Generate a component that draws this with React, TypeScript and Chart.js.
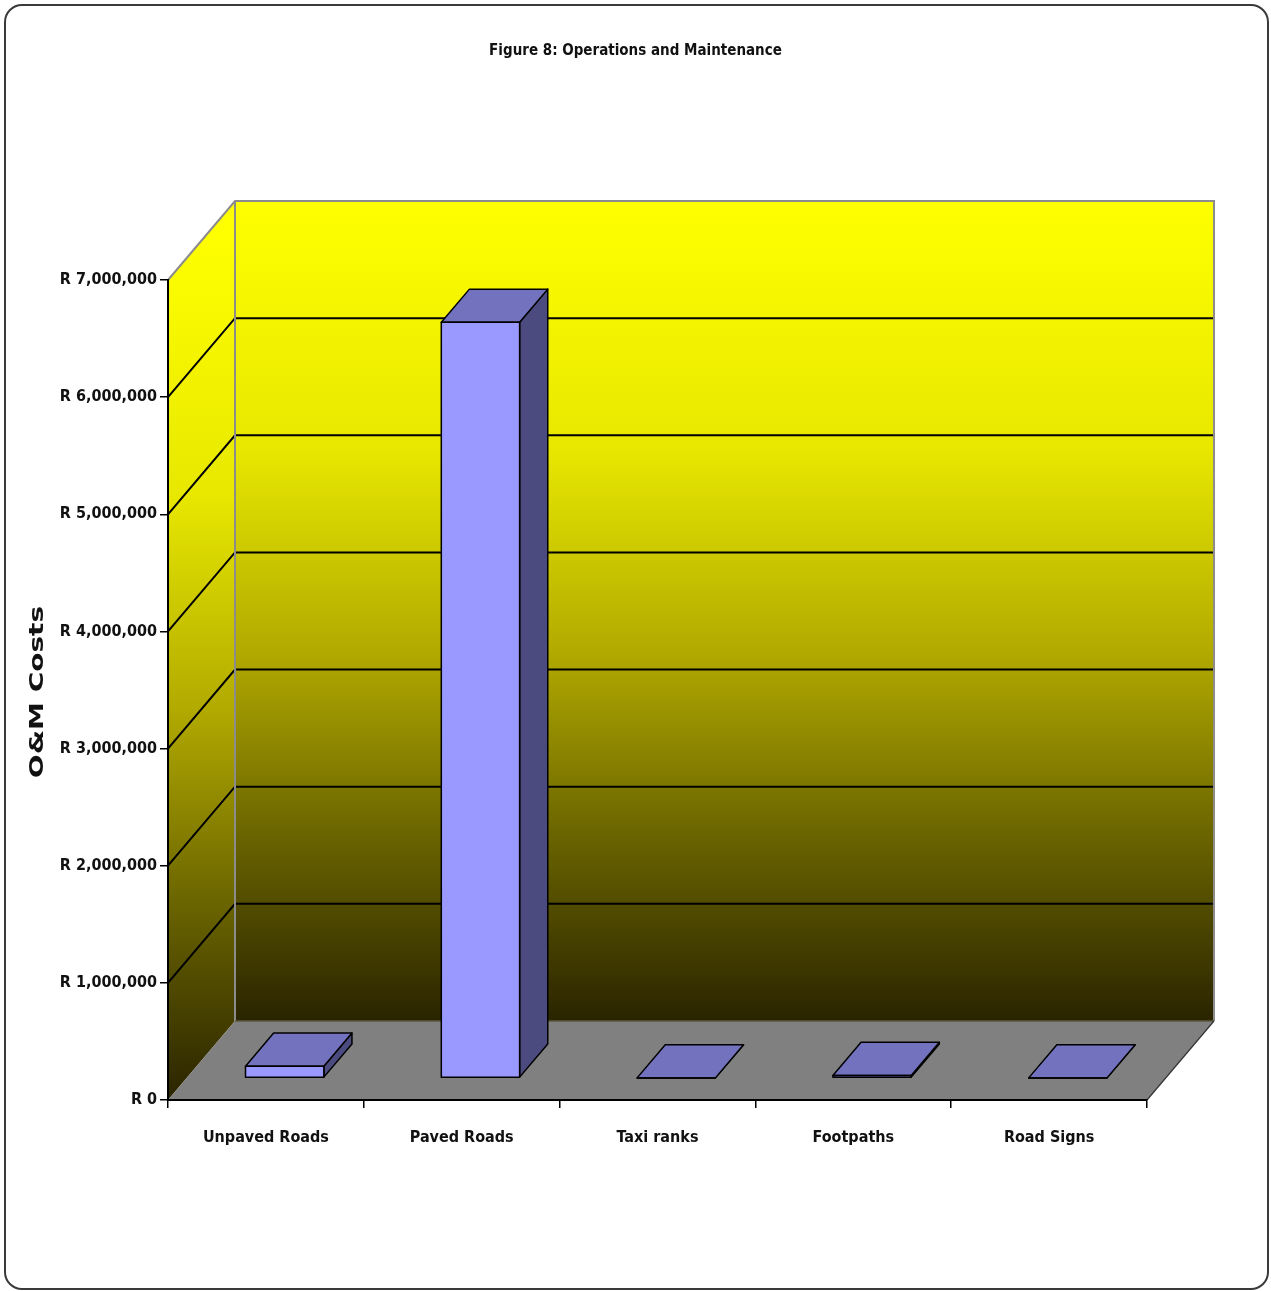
import React, { useEffect, useRef } from "react";
import { Chart, registerables } from "chart.js";

Chart.register(...registerables);

// ---- data ----
const categories = ["Unpaved Roads", "Paved Roads", "Taxi ranks", "Footpaths", "Road Signs"];
const omCosts = [100000, 6450000, 0, 20000, 0];
const yMin = 0;
const yMax = 7000000;
const yStep = 1000000;
const chartTitle = "Figure 8: Operations and Maintenance";
const yAxisTitle = "O&M Costs";

// ---- 3D styling ----
const DEPTH_X = 67;
const DEPTH_Y = 79;
const BAR_FRONT = 0.28;
const BAR_BACK = 0.7;
const FONT_COND = '"DejaVu Sans Condensed", "DejaVu Sans", sans-serif';

function wallGradient(ctx: CanvasRenderingContext2D, y0: number, y1: number) {
  const g = ctx.createLinearGradient(0, y0, 0, y1);
  g.addColorStop(0, "#ffff00");
  g.addColorStop(0.3, "#e8e800");
  g.addColorStop(0.55, "#b2aa00");
  g.addColorStop(0.78, "#686200");
  g.addColorStop(1, "#2a2400");
  return g;
}

const threeDPlugin = {
  id: "threeD",
  beforeDraw(chart: any) {
    const { ctx, chartArea } = chart;
    const yScale = chart.scales.y;
    const L = chartArea.left, R = chartArea.right, T = chartArea.top, B = chartArea.bottom;
    ctx.save();
    // back wall
    ctx.fillStyle = wallGradient(ctx, T - DEPTH_Y, B - DEPTH_Y);
    ctx.fillRect(L + DEPTH_X, T - DEPTH_Y, R - L, B - T);
    // side wall
    ctx.beginPath();
    ctx.moveTo(L, T);
    ctx.lineTo(L + DEPTH_X, T - DEPTH_Y);
    ctx.lineTo(L + DEPTH_X, B - DEPTH_Y);
    ctx.lineTo(L, B);
    ctx.closePath();
    ctx.fillStyle = wallGradient(ctx, T - DEPTH_Y * 0.6, B);
    ctx.fill();
    // floor
    ctx.beginPath();
    ctx.moveTo(L, B);
    ctx.lineTo(R, B);
    ctx.lineTo(R + DEPTH_X, B - DEPTH_Y);
    ctx.lineTo(L + DEPTH_X, B - DEPTH_Y);
    ctx.closePath();
    ctx.fillStyle = "#808080";
    ctx.fill();
    // grid lines
    ctx.strokeStyle = "#000";
    ctx.lineWidth = 2;
    yScale.ticks.forEach((t: any) => {
      if (t.value <= yMin || t.value >= yMax) return;
      const py = yScale.getPixelForValue(t.value);
      ctx.beginPath();
      ctx.moveTo(L, py);
      ctx.lineTo(L + DEPTH_X, py - DEPTH_Y);
      ctx.lineTo(R + DEPTH_X, py - DEPTH_Y);
      ctx.stroke();
    });
    // wall edges
    ctx.strokeStyle = "#8c8c8c";
    ctx.lineWidth = 2;
    ctx.beginPath();
    ctx.moveTo(L, T);
    ctx.lineTo(L + DEPTH_X, T - DEPTH_Y);
    ctx.lineTo(R + DEPTH_X, T - DEPTH_Y);
    ctx.lineTo(R + DEPTH_X, B - DEPTH_Y);
    ctx.moveTo(L + DEPTH_X, T - DEPTH_Y);
    ctx.lineTo(L + DEPTH_X, B - DEPTH_Y);
    ctx.stroke();
    ctx.strokeStyle = "#5a5a40";
    ctx.lineWidth = 1.5;
    ctx.beginPath();
    ctx.moveTo(L + DEPTH_X, B - DEPTH_Y);
    ctx.lineTo(R + DEPTH_X, B - DEPTH_Y);
    ctx.stroke();
    ctx.strokeStyle = "#333";
    ctx.lineWidth = 1.2;
    ctx.beginPath();
    ctx.moveTo(R, B);
    ctx.lineTo(R + DEPTH_X, B - DEPTH_Y);
    ctx.stroke();
    ctx.restore();
  },
  afterDatasetsDraw(chart: any) {
    const { ctx } = chart;
    const meta = chart.getDatasetMeta(0);
    const fx = BAR_FRONT * DEPTH_X, fy = BAR_FRONT * DEPTH_Y;
    const bx = BAR_BACK * DEPTH_X, by = BAR_BACK * DEPTH_Y;
    ctx.save();
    ctx.lineWidth = 1.5;
    ctx.lineJoin = "round";
    ctx.strokeStyle = "#000";
    meta.data.forEach((el: any) => {
      const x0 = el.x - el.width / 2;
      const x1 = el.x + el.width / 2;
      const top = el.y;
      const base = el.base;
      // side
      ctx.beginPath();
      ctx.moveTo(x1 + fx, top - fy);
      ctx.lineTo(x1 + bx, top - by);
      ctx.lineTo(x1 + bx, base - by);
      ctx.lineTo(x1 + fx, base - fy);
      ctx.closePath();
      ctx.fillStyle = "#4b4b80";
      ctx.fill();
      ctx.stroke();
      // top
      ctx.beginPath();
      ctx.moveTo(x0 + fx, top - fy);
      ctx.lineTo(x1 + fx, top - fy);
      ctx.lineTo(x1 + bx, top - by);
      ctx.lineTo(x0 + bx, top - by);
      ctx.closePath();
      ctx.fillStyle = "#7272bf";
      ctx.fill();
      ctx.stroke();
      // front
      ctx.beginPath();
      ctx.rect(x0 + fx, top - fy, x1 - x0, base - top);
      ctx.fillStyle = "#9999ff";
      ctx.fill();
      ctx.stroke();
    });
    ctx.restore();
  },
  afterDraw(chart: any) {
    const { ctx } = chart;
    ctx.save();
    ctx.translate(38, 692);
    ctx.rotate(-Math.PI / 2);
    ctx.scale(1, 0.72);
    ctx.font = 'bold 28px "DejaVu Sans", sans-serif';
    ctx.fillStyle = "#111";
    ctx.textAlign = "center";
    ctx.textBaseline = "middle";
    ctx.fillText(yAxisTitle, 0, 0);
    ctx.restore();
  },
};

export default function App() {
  const canvasRef = useRef<HTMLCanvasElement | null>(null);

  useEffect(() => {
    if (!canvasRef.current) return;
    const chart = new Chart(canvasRef.current, {
      type: "bar",
      data: {
        labels: categories,
        datasets: [
          {
            label: yAxisTitle,
            data: omCosts,
            backgroundColor: "rgba(0,0,0,0)",
            borderWidth: 0,
            barPercentage: 0.4,
            categoryPercentage: 1.0,
            yAxisID: "y",
          },
        ],
      },
      options: {
        animation: false,
        responsive: false,
        devicePixelRatio: 1,
        layout: { padding: { left: 0, right: 0, top: 0, bottom: 0 } },
        plugins: {
          legend: { display: false },
          tooltip: { enabled: false },
          title: {
            display: true,
            text: chartTitle,
            color: "#111",
            font: { family: FONT_COND, size: 15, weight: "bold" },
            padding: { top: 42, bottom: 220 },
          },
        },
        scales: {
          x: {
            afterFit: (s: any) => {
              s.height = 191;
            },
            grid: {
              offset: true,
              drawOnChartArea: false,
              drawTicks: true,
              tickLength: 8,
              color: "#000",
              lineWidth: 1.5,
            },
            border: { display: true, color: "#000", width: 2 },
            ticks: {
              color: "#111",
              padding: 20,
              font: { family: FONT_COND, size: 16, weight: "bold" },
              maxRotation: 0,
            },
          },
          y: {
            min: yMin,
            max: yMax,
            afterFit: (s: any) => {
              s.width = 168;
            },
            grid: {
              drawOnChartArea: false,
              drawTicks: true,
              tickLength: 8,
              color: "#000",
              lineWidth: 1.5,
            },
            border: { display: true, color: "#000", width: 2 },
            ticks: {
              stepSize: yStep,
              color: "#111",
              padding: 3,
              font: { family: FONT_COND, size: 16, weight: "bold" },
              callback: (v: any) => "R " + Number(v).toLocaleString("en-US"),
            },
          },
          spacer: {
            type: "linear",
            position: "right",
            afterFit: (s: any) => {
              s.width = 124;
            },
            grid: { display: false, drawTicks: false },
            border: { display: false },
            ticks: { display: false },
          },
        },
      },
      plugins: [threeDPlugin],
    } as any);
    return () => chart.destroy();
  }, []);

  return (
    <div style={{ position: "absolute", left: 0, top: 0, width: 1271, height: 1291, background: "#fff" }}>
      <div
        style={{
          position: "absolute",
          left: 4,
          top: 4,
          width: 1265,
          height: 1286,
          border: "2px solid #3a3a3a",
          borderRadius: 18,
          boxSizing: "border-box",
        }}
      />
      <canvas
        ref={canvasRef}
        width={1271}
        height={1291}
        style={{ position: "absolute", left: 0, top: 0, display: "block" }}
      />
    </div>
  );
}
